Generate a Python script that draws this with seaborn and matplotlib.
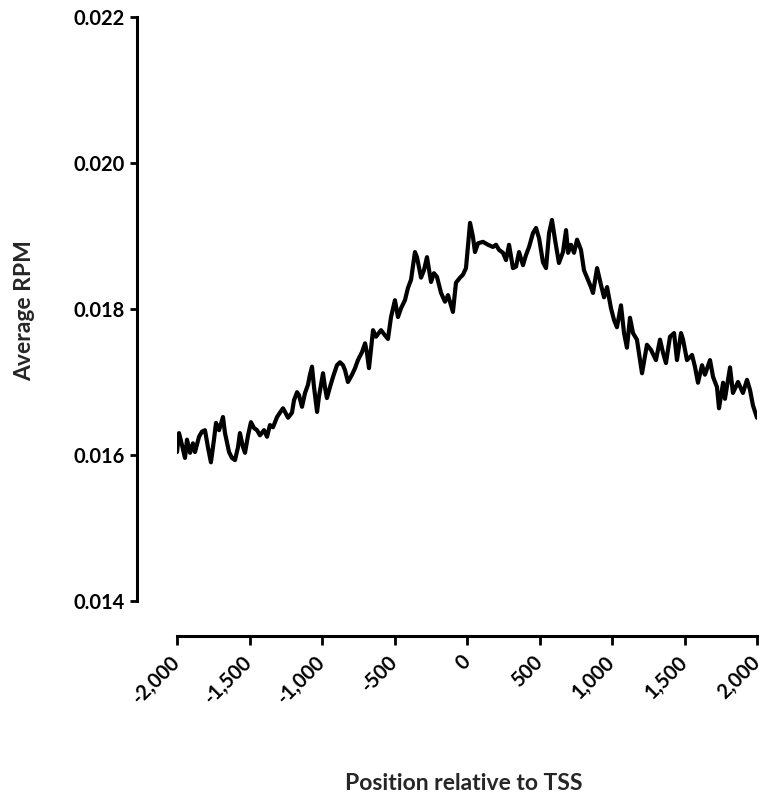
import matplotlib
matplotlib.use("Agg")
import matplotlib.pyplot as plt
import seaborn as sns

# Average RPM profile around the TSS
positions = [
    -2000, -1986, -1966, -1945, -1931, -1910, -1890, -1876, -1848, -1828,
    -1807, -1786, -1766, -1745, -1731, -1710, -1683, -1669, -1641, -1621,
    -1600, -1579, -1566, -1545, -1531, -1510, -1490, -1469, -1448, -1428,
    -1400, -1379, -1359, -1338, -1310, -1290, -1269, -1255, -1234, -1207,
    -1193, -1172, -1159, -1138, -1117, -1097, -1083, -1069, -1055, -1034,
    -1021, -993, -979, -966, -945, -924, -897, -876, -855, -841,
    -821, -793, -772, -752, -724, -703, -690, -676, -648, -628,
    -593, -566, -545, -524, -497, -476, -455, -428, -407, -386,
    -359, -345, -317, -297, -276, -248, -228, -207, -179, -152,
    -131, -97, -76, -48, -28, -7, 21, 41, 55, 76,
    110, 145, 179, 200, 221, 248, 269, 290, 317, 338,
    359, 386, 407, 428, 455, 476, 497, 524, 545, 566,
    586, 607, 634, 662, 683, 697, 717, 738, 759, 786,
    807, 828, 855, 869, 897, 924, 945, 966, 993, 1014,
    1034, 1062, 1083, 1103, 1124, 1145, 1172, 1207, 1241, 1269,
    1303, 1331, 1352, 1372, 1400, 1428, 1448, 1476, 1490, 1517,
    1552, 1572, 1593, 1621, 1641, 1676, 1697, 1724, 1738, 1766,
    1779, 1814, 1834, 1869, 1903, 1931, 1952, 1972, 2000,
]
average_rpm = [
    0.01604, 0.01630, 0.01614, 0.01596, 0.01621, 0.01603, 0.01616, 0.01604, 0.01625, 0.01632,
    0.01634, 0.01610, 0.01590, 0.01621, 0.01644, 0.01634, 0.01652, 0.01630, 0.01604, 0.01596,
    0.01593, 0.01611, 0.01630, 0.01611, 0.01603, 0.01627, 0.01645, 0.01637, 0.01634, 0.01627,
    0.01634, 0.01625, 0.01641, 0.01638, 0.01652, 0.01658, 0.01664, 0.01659, 0.01651, 0.01658,
    0.01675, 0.01686, 0.01682, 0.01666, 0.01685, 0.01696, 0.01710, 0.01721, 0.01693, 0.01659,
    0.01680, 0.01712, 0.01692, 0.01678, 0.01693, 0.01707, 0.01723, 0.01727, 0.01723, 0.01716,
    0.01700, 0.01710, 0.01719, 0.01730, 0.01741, 0.01753, 0.01740, 0.01719, 0.01771, 0.01762,
    0.01771, 0.01764, 0.01759, 0.01789, 0.01812, 0.01789, 0.01801, 0.01812, 0.01829, 0.01840,
    0.01878, 0.01871, 0.01843, 0.01853, 0.01871, 0.01837, 0.01849, 0.01844, 0.01822, 0.01810,
    0.01819, 0.01796, 0.01836, 0.01843, 0.01847, 0.01856, 0.01918, 0.01899, 0.01878, 0.01890,
    0.01892, 0.01888, 0.01885, 0.01888, 0.01881, 0.01877, 0.01867, 0.01888, 0.01856, 0.01858,
    0.01878, 0.01860, 0.01874, 0.01885, 0.01904, 0.01911, 0.01897, 0.01864, 0.01856, 0.01904,
    0.01922, 0.01895, 0.01863, 0.01878, 0.01908, 0.01877, 0.01888, 0.01877, 0.01895, 0.01881,
    0.01853, 0.01843, 0.01830, 0.01822, 0.01856, 0.01833, 0.01816, 0.01830, 0.01801, 0.01785,
    0.01775, 0.01805, 0.01767, 0.01747, 0.01788, 0.01767, 0.01758, 0.01712, 0.01751, 0.01744,
    0.01730, 0.01758, 0.01740, 0.01726, 0.01762, 0.01767, 0.01730, 0.01767, 0.01758, 0.01730,
    0.01737, 0.01721, 0.01699, 0.01723, 0.01710, 0.01730, 0.01707, 0.01693, 0.01664, 0.01699,
    0.01677, 0.01720, 0.01685, 0.01700, 0.01685, 0.01703, 0.01689, 0.01668, 0.01651,
]

x_ticks = [-2000, -1500, -1000, -500, 0, 500, 1000, 1500, 2000]
x_tick_labels = ["-2,000", "-1,500", "-1,000", "-500", "0", "500", "1,000", "1,500", "2,000"]
y_ticks = [0.014, 0.016, 0.018, 0.020, 0.022]
y_tick_labels = ["0.014", "0.016", "0.018", "0.020", "0.022"]

sns.set_style("ticks")
plt.rcParams['font.family'] = ['Lato', 'DejaVu Sans']
plt.rcParams['font.weight'] = 'bold'

W, H = 763, 797
fig = plt.figure(figsize=(W / 100, H / 100), dpi=100)
# data area: x from px 177 to 757, y from px 17 to 601
ax = fig.add_axes([177 / W, (H - 601) / H, 580 / W, 584 / H])

sns.lineplot(x=positions, y=average_rpm, color='black', linewidth=3.0, ax=ax)

ax.set_xlim(-2000, 2000)
ax.set_ylim(0.014, 0.022)
ax.set_xticks(x_ticks, x_tick_labels)
ax.set_yticks(y_ticks, y_tick_labels)
ax.set_xlabel("")
ax.set_ylabel("")

# Prism-style detached axes
sns.despine(ax=ax)
ax.spines['left'].set_position(('outward', 28.8))
ax.spines['bottom'].set_position(('outward', 25.2))
for side in ['left', 'bottom']:
    ax.spines[side].set_linewidth(2.2)
    ax.spines[side].set_color('black')
ax.tick_params(axis='y', length=5, width=2, pad=3.5, colors='black', labelsize=14.5)
ax.tick_params(axis='x', length=6.5, width=2, pad=10, colors='black', labelsize=14.5)
for lbl in ax.get_xticklabels():
    lbl.set_rotation(45)
    lbl.set_rotation_mode('anchor')
    lbl.set_ha('right')
    lbl.set_va('center')
for lbl in ax.get_xticklabels() + ax.get_yticklabels():
    lbl.set_fontweight('bold')

fig.text(25 / W, 1 - 311 / H, "Average RPM", rotation=90, ha='center', va='center',
         fontsize=16.5, fontweight='bold')
fig.text(464 / W, 1 - 783 / H, "Position relative to TSS", ha='center', va='center',
         fontsize=16.5, fontweight='bold')

fig.savefig("out.png", dpi=100)
